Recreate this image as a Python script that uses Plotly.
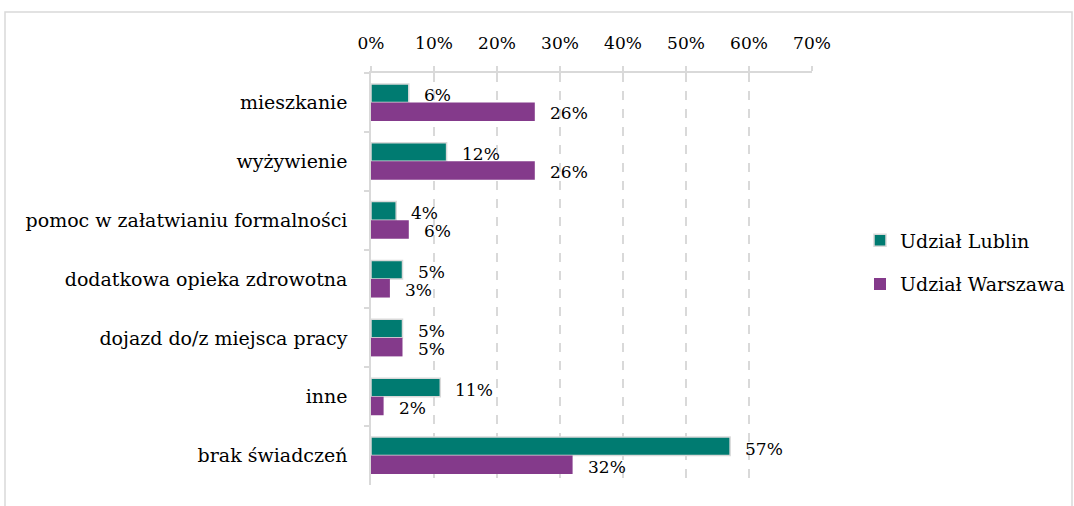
import plotly.graph_objects as go

categories = ["mieszkanie", "wyżywienie", "pomoc w załatwianiu formalności",
              "dodatkowa opieka zdrowotna", "dojazd do/z miejsca pracy", "inne",
              "brak świadczeń"]
lublin = [0.06, 0.12, 0.04, 0.05, 0.05, 0.11, 0.57]
warszawa = [0.26, 0.26, 0.06, 0.03, 0.05, 0.02, 0.32]
lublin_labels = ["6%", "12%", "4%", "5%", "5%", "11%", "57%"]
warszawa_labels = ["26%", "26%", "6%", "3%", "5%", "2%", "32%"]
x_ticks = [0, 0.1, 0.2, 0.3, 0.4, 0.5, 0.6, 0.7]

FONT = "Palatino Linotype, Book Antiqua, Palatino, DejaVu Serif, serif"
TEAL = "#007B71"
PURPLE = "#843A8B"
GRID = "#D9D9D9"

W, H = 1074, 506
L, R, T, B = 371, 262, 73, 21

fig = go.Figure()
fig.add_trace(go.Bar(
    y=categories, x=lublin, orientation="h", name="Udział Lublin",
    marker=dict(color=TEAL, line=dict(color=GRID, width=1.5)),
    legendgroup="a", hoverinfo="x+y"
))
fig.add_trace(go.Bar(
    y=categories, x=warszawa, orientation="h", name="Udział Warszawa",
    marker=dict(color=PURPLE, line=dict(color=PURPLE, width=0)),
    legendgroup="b", hoverinfo="x+y"
))

# etykiety danych jak w Excelu: za końcem słupka, lekko przesunięte
for cat, v, t in zip(categories, lublin, lublin_labels):
    fig.add_annotation(x=v, y=cat, text=t, showarrow=False, xanchor="left",
                       xshift=13, yshift=7, font=dict(family=FONT, size=17, color="#000"))
for cat, v, t in zip(categories, warszawa, warszawa_labels):
    fig.add_annotation(x=v, y=cat, text=t, showarrow=False, xanchor="left",
                       xshift=13, yshift=-11, font=dict(family=FONT, size=17, color="#000"))

# ramka obszaru wykresu
pw, ph = W - L - R, H - T - B
fig.add_shape(type="rect", xref="paper", yref="paper",
              x0=(5 - L) / pw, x1=(1072 - L) / pw,
              y0=-(B + 10) / ph, y1=(H - B - 12) / ph,
              line=dict(color=GRID, width=1.5), layer="below")

fig.update_layout(
    width=W, height=H,
    margin=dict(l=L, r=R, t=T, b=B, autoexpand=False),
    paper_bgcolor="white", plot_bgcolor="white",
    barmode="group", bargap=0.37, bargroupgap=0,
    font=dict(family=FONT, size=19, color="#000"),
    legend=dict(x=(860 - L) / pw, y=0.54, xanchor="left", yanchor="middle",
                font=dict(family=FONT, size=19), tracegroupgap=16,
                itemwidth=30, bgcolor="rgba(0,0,0,0)"),
    showlegend=True,
)
fig.update_xaxes(
    side="top", range=[0, 0.7], tickvals=x_ticks, tickformat=".0%",
    tickfont=dict(size=17),
    showgrid=True, gridcolor=GRID, gridwidth=1.5, griddash="dash",
    showline=True, linecolor=GRID, linewidth=1.5,
    ticks="outside", tickcolor=GRID, ticklen=5, tickwidth=1.5,
    zeroline=False, ticklabelstandoff=10, automargin=False,
)
fig.update_yaxes(
    autorange="reversed", showline=True, linecolor=GRID, linewidth=1.5,
    ticks="outside", tickson="boundaries", tickcolor=GRID, ticklen=5, tickwidth=1.5,
    showgrid=False, ticklabelstandoff=18, automargin=False,
)

fig.write_html("out.html", config={"displayModeBar": False},
               post_script="document.body.style.margin='0px';")
